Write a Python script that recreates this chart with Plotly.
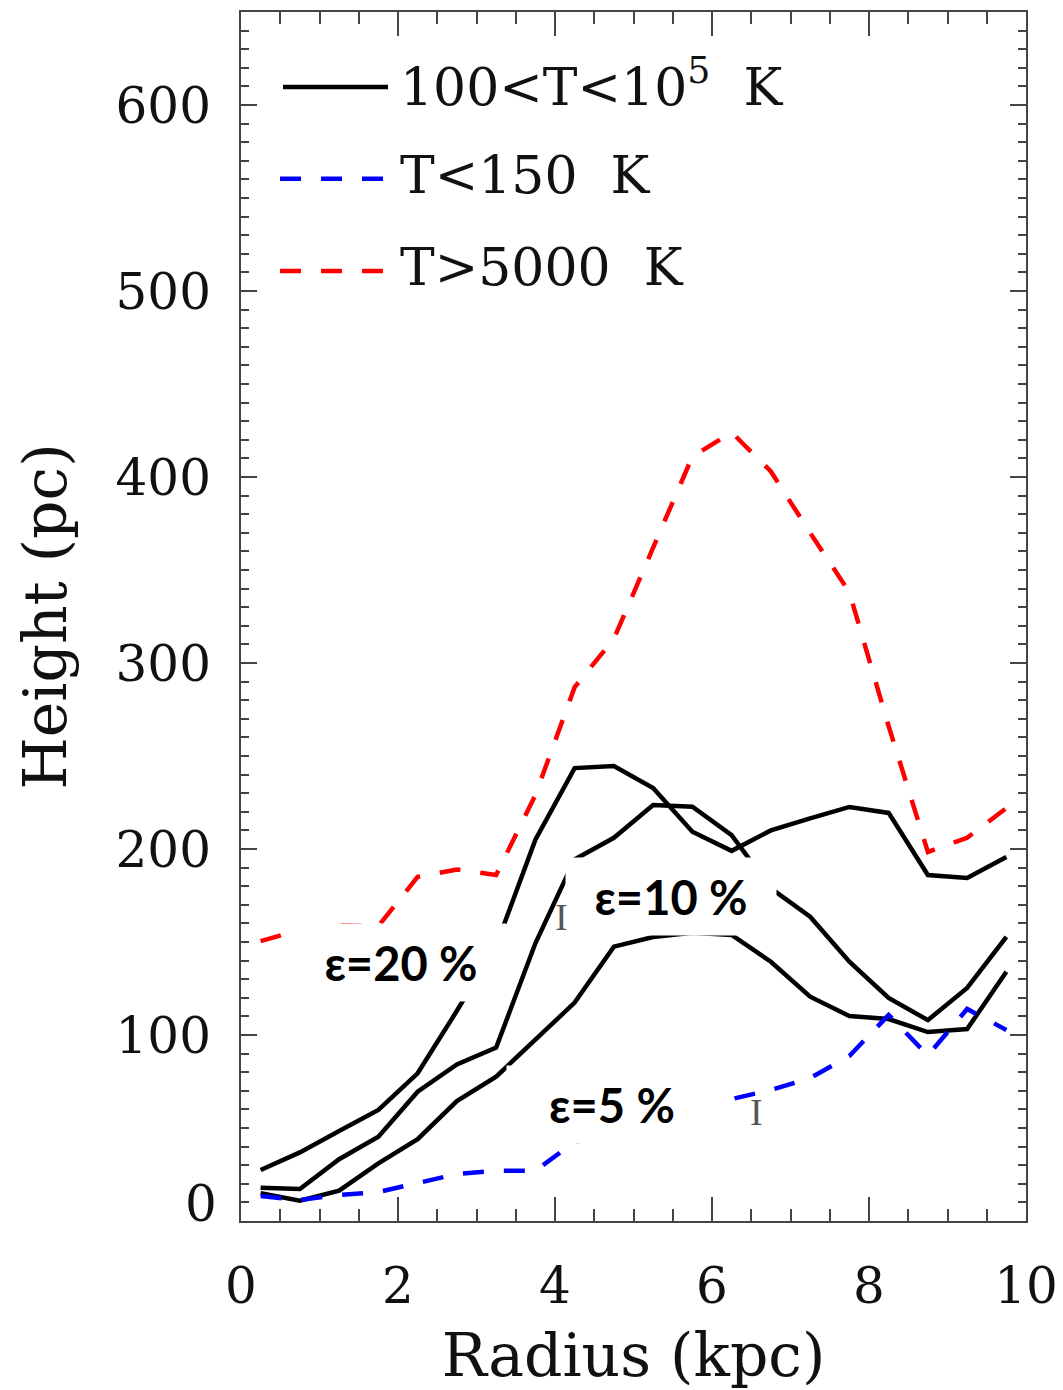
import plotly.graph_objects as go

# Radial bins (kpc)
radius = [0.25, 0.75, 1.25, 1.75, 2.25, 2.75, 3.25, 3.75, 4.25, 4.75,
          5.25, 5.75, 6.25, 6.75, 7.25, 7.75, 8.25, 8.75, 9.25, 9.75]

# Scale height (pc) of gas with 100 < T < 1e5 K, for three SN efficiencies
h_eps20 = [27.4, 36.9, 48.4, 59.7, 79.4, 113, 148, 205, 243.5, 244.6,
           232.8, 209.3, 199, 210, 216.5, 222.6, 219.4, 186, 184.4, 195.7]
h_eps10 = [17.9, 17.2, 33.2, 45.3, 69.5, 84.2, 93.2, 149.3, 194.4, 206,
           223.7, 222.7, 207.5, 178.8, 163.6, 139.4, 119.9, 108, 125.3, 152.8]
h_eps5 = [14.9, 10.9, 16.3, 31, 44, 64.5, 77.6, 97.3, 117.4, 147.5,
          152.7, 155, 153.8, 139.4, 120.6, 110.2, 108.6, 101.6, 103.2, 134]

# Scale height of cold (T < 150 K) and warm (T > 5000 K) gas
h_cold = [13.4, 11.3, 14, 15.6, 20.4, 25.3, 27, 27, 42.5, 48,
          54, 60, 65.6, 70.4, 76.9, 88.7, 110.8, 89, 114, 102.7]
h_warm = [150.5, 156.5, 159, 158.6, 185, 189, 186, 229, 287, 313,
          362, 411, 424, 403, 370, 338, 266, 198.4, 206, 222]

legend_labels = ["100&lt;T&lt;10<sup>5</sup>  K", "T&lt;150  K", "T&gt;5000  K"]
eff_labels = ["\u03b5=20 %", "\u03b5=10 %", "\u03b5=5 %"]
eff_pos = [(2.04, 139), (5.48, 174.7), (4.73, 62.9)]

x_ticks = [0, 2, 4, 6, 8, 10]
y_ticks = [100, 200, 300, 400, 500, 600]

SERIF = "DejaVu Serif"
DASH = "21px,20px"
LW = 4.5

fig = go.Figure()
for h in (h_eps20, h_eps10, h_eps5):
    fig.add_trace(go.Scatter(x=radius, y=h, mode="lines",
                             line=dict(color="black", width=LW)))
fig.add_trace(go.Scatter(x=radius, y=h_cold, mode="lines",
                         line=dict(color="#0000ff", width=LW, dash=DASH)))
fig.add_trace(go.Scatter(x=radius, y=h_warm, mode="lines",
                         line=dict(color="#ff0000", width=LW, dash=DASH)))

annotations = []
# efficiency labels on white boxes
for txt, (ax, ay) in zip(eff_labels, eff_pos):
    annotations.append(dict(x=ax, y=ay, xref="x", yref="y", text=txt,
                            showarrow=False, bgcolor="white",
                            width=208, height=75,
                            font=dict(family="Lato", size=47, color="black",
                                      weight="bold")))
# small cursor-like marks
for ax, ay in [(4.085, 163.4), (6.569, 58.6)]:
    annotations.append(dict(x=ax, y=ay, xref="x", yref="y", text="I",
                            showarrow=False,
                            font=dict(family="Liberation Serif", size=38, color="#555")))

# legend drawn in the upper-left corner of the frame
legend_rows = [0.938, 0.862, 0.7858]
legend_styles = [dict(color="black", width=LW, dash="solid"),
                 dict(color="#0000ff", width=LW, dash=DASH),
                 dict(color="#ff0000", width=LW, dash=DASH)]
legend_x = [(0.0535, 0.1873), (0.0497, 0.181), (0.0497, 0.181)]
shapes = []
for (x0, x1), yy, st, lab in zip(legend_x, legend_rows, legend_styles, legend_labels):
    shapes.append(dict(type="line", xref="paper", yref="paper",
                       x0=x0, x1=x1, y0=yy, y1=yy, line=st))
    annotations.append(dict(x=0.2, y=yy, xref="paper", yref="paper",
                            xanchor="left", yanchor="middle", yshift=4, text=lab,
                            showarrow=False,
                            font=dict(family=SERIF, size=52, color="#111")))

# "0" label on the y axis sits a little above the corner
annotations.append(dict(x=0, y=0, xref="paper", yref="y", text="0",
                        xanchor="right", yanchor="middle", xshift=-22, yshift=17,
                        showarrow=False, font=dict(family=SERIF, size=50, color="#111")))

axis_common = dict(showgrid=False, zeroline=False, showline=True,
                   linecolor="#444", linewidth=2, mirror="allticks",
                   ticks="inside", tickcolor="#444", tickwidth=1.5,
                   automargin=False)

fig.update_layout(
    width=1063, height=1390,
    margin=dict(l=241, r=37, t=12, b=169),
    plot_bgcolor="white", paper_bgcolor="white",
    showlegend=False,
    xaxis=dict(range=[0, 10], tickvals=x_ticks, ticklen=24,
               minor=dict(dtick=0.5, ticklen=12, ticks="inside",
                          tickcolor="#444", tickwidth=1.5),
               tickfont=dict(family=SERIF, size=50, color="#111"),
               ticklabelstandoff=20,
               title=dict(text="Radius (kpc)", standoff=44,
                          font=dict(family=SERIF, size=60, color="#111")),
               **axis_common),
    yaxis=dict(range=[0, 650], tickvals=y_ticks, ticklen=16,
               minor=dict(dtick=10, ticklen=8, ticks="inside",
                          tickcolor="#444", tickwidth=1.5),
               tickfont=dict(family=SERIF, size=50, color="#111"),
               ticklabelstandoff=18,
               title=dict(text="Height (pc)", standoff=30,
                          font=dict(family=SERIF, size=60, color="#111")),
               **axis_common),
    shapes=shapes,
    annotations=annotations,
)

fig.write_html("out.html")
